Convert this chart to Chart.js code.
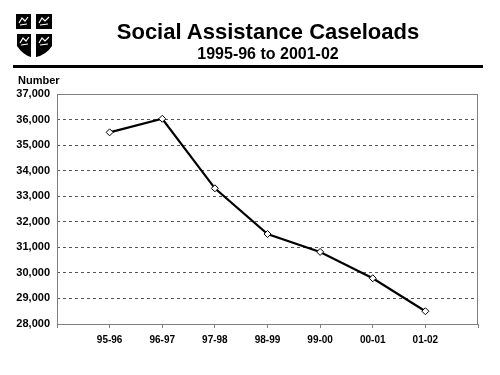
<!DOCTYPE html>
<html>
<head>
<meta charset="utf-8">
<script src="https://cdn.jsdelivr.net/npm/chart.js@4"></script>
<style>
  body { margin: 0; background: #fff; font-family: "Liberation Sans", Arial, sans-serif; }
  #wrap { position: relative; width: 500px; height: 375px; overflow: hidden; }
  #chart { position: absolute; left: 0; top: 0; }
  .txt { position: absolute; font-weight: bold; color: #000; white-space: nowrap; }
  #title { left: 68px; width: 400px; top: 21px; font-size: 22px; line-height: 22px; text-align: center; }
  #subtitle { left: 68px; width: 400px; top: 46px; font-size: 16px; line-height: 16px; text-align: center; }
  #rule { position: absolute; left: 13px; top: 65px; width: 470px; height: 3px; background: #000; }
  #ytitle { left: 18px; top: 75px; font-size: 11px; line-height: 11px; }
  #logo { position: absolute; left: 15px; top: 13px; }
</style>
</head>
<body>
<div id="wrap">
  <canvas id="chart" width="500" height="375"></canvas>
  <svg id="logo" width="40" height="46" viewBox="0 0 40 46">
    <rect x="1" y="1" width="15" height="15" fill="#000"/>
    <rect x="21" y="1" width="16" height="15" fill="#000"/>
    <path d="M2 21 H16 V44 Q8 42 2 33 Z" fill="#000"/>
    <path d="M21 21 H37 V33 Q31 42 21 44 Z" fill="#000"/>
    <path d="M4 10 L7 5 L10 8 L13 4 M5 12 L12 11" stroke="#fff" stroke-width="1.2" fill="none"/>
    <path d="M24 10 L27 5 L30 8 L34 4 M25 12 L33 11" stroke="#fff" stroke-width="1.2" fill="none"/>
    <path d="M5 30 L8 25 L11 28 L14 24 M6 32 L13 31" stroke="#fff" stroke-width="1.2" fill="none"/>
    <path d="M24 30 L27 25 L30 28 L34 24 M25 32 L33 31" stroke="#fff" stroke-width="1.2" fill="none"/>
  </svg>
  <div id="title" class="txt">Social Assistance Caseloads</div>
  <div id="subtitle" class="txt">1995-96 to 2001-02</div>
  <div id="rule"></div>
  <div id="ytitle" class="txt">Number</div>
</div>
<script>
// fiscal years and caseloads
const seasons = ['95-96', '96-97', '97-98', '98-99', '99-00', '00-01', '01-02'];
const caseloads = [35500, 36030, 33310, 31520, 30820, 29790, 28500];
const yMin = 28000;
const yMax = 37000;
const yStep = 1000;

const points = seasons.map((s, i) => ({ x: i + 1, y: caseloads[i] }));
const font = "'Liberation Sans', Arial, sans-serif";

// grey box around the plot area
const frame = {
    id: 'frame',
    afterDatasetsDraw(chart) {
        const a = chart.chartArea;
        const ctx = chart.ctx;
        ctx.save();
        ctx.strokeStyle = '#808080';
        ctx.lineWidth = 1;
        ctx.strokeRect(Math.round(a.left) + 0.5, Math.round(a.top) + 0.5,
            Math.round(a.right - a.left) - 1, Math.round(a.bottom - a.top));
        ctx.restore();
    }
};

let ctx = document.getElementById('chart').getContext('2d');
let myChart = new Chart(ctx, {
    type: 'line',
    data: {
        datasets: [{
            label: 'Caseloads',
            data: points,
            borderColor: '#000',
            borderWidth: 2.2,
            backgroundColor: '#fff',
            pointStyle: 'rectRot',
            pointRadius: 3.5,
            pointBorderWidth: 1,
            pointBorderColor: '#000',
            pointBackgroundColor: '#fff',
            tension: 0
        }]
    },
    options: {
        responsive: false,
        animation: false,
        layout: { padding: { left: 10, right: 22, top: 94, bottom: 21 } },
        plugins: {
            legend: { display: false },
            title: { display: false },
            tooltip: { enabled: false }
        },
        scales: {
            x: {
                type: 'linear',
                min: 0,
                max: seasons.length + 1,
                afterFit: s => { s.height = 30; },
                afterBuildTicks: s => {
                    s.ticks = [];
                    for (let i = 0; i <= seasons.length + 1; i++) s.ticks.push({ value: i });
                },
                ticks: {
                    autoSkip: false,
                    maxRotation: 0,
                    padding: 6,
                    color: '#000',
                    font: { family: font, size: 10, weight: 'bold' },
                    callback: v => seasons[v - 1] || ''
                },
                grid: { drawOnChartArea: false, drawTicks: true, tickLength: 4, color: '#808080' },
                border: { display: false }
            },
            y: {
                min: yMin,
                max: yMax,
                afterFit: s => { s.width = 47; },
                ticks: {
                    stepSize: yStep,
                    padding: 7,
                    color: '#000',
                    font: { family: font, size: 11, weight: 'bold' },
                    callback: v => v.toLocaleString('en-US')
                },
                grid: { color: '#555', lineWidth: 1, drawTicks: false },
                border: { display: false, dash: [3, 3] }
            }
        }
    },
    plugins: [frame]
});
</script>
</body>
</html>
